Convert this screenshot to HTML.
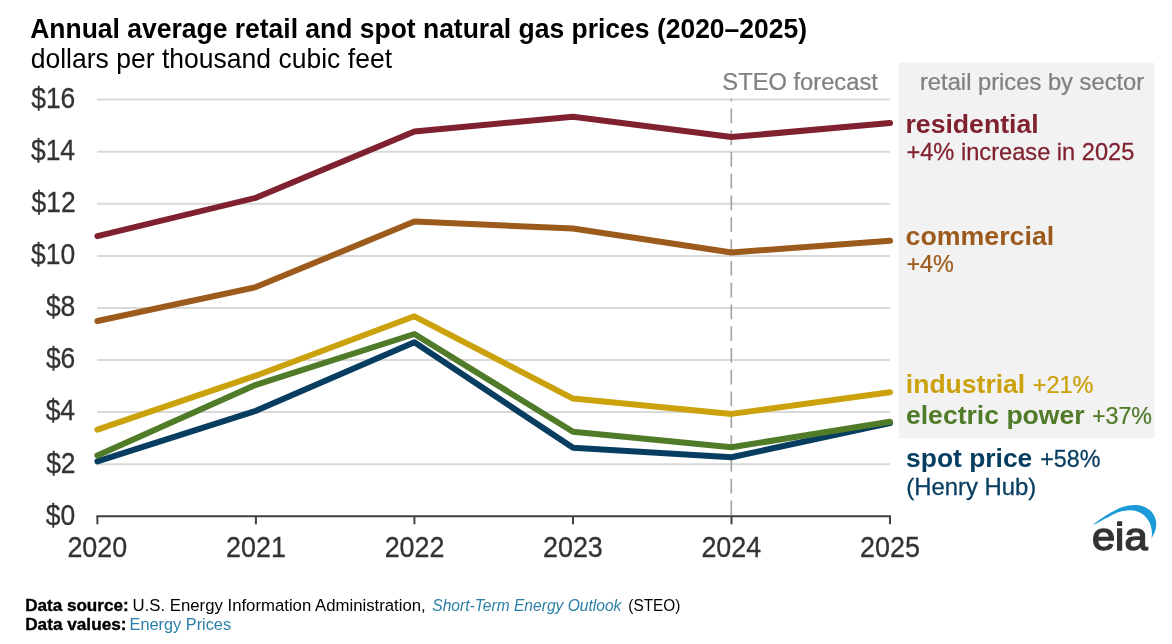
<!DOCTYPE html>
<html lang="en"><head><meta charset="utf-8"><title>Annual average retail and spot natural gas prices (2020–2025)</title>
<style>
html,body{margin:0;padding:0;background:#fff;}
body{width:1172px;height:644px;overflow:hidden;}
svg{display:block;}
text{font-family:"Liberation Sans",sans-serif;}
</style></head><body>
<svg width="1172" height="644" viewBox="0 0 1172 644">
<rect width="1172" height="644" fill="#fff"/>
<rect x="898.7" y="62.6" width="255.5" height="375.6" fill="#f2f2f2"/>
<line x1="97.2" x2="890.0" y1="464.2" y2="464.2" stroke="#d9d9d9" stroke-width="2"/>
<line x1="97.2" x2="890.0" y1="412.1" y2="412.1" stroke="#d9d9d9" stroke-width="2"/>
<line x1="97.2" x2="890.0" y1="360.0" y2="360.0" stroke="#d9d9d9" stroke-width="2"/>
<line x1="97.2" x2="890.0" y1="307.9" y2="307.9" stroke="#d9d9d9" stroke-width="2"/>
<line x1="97.2" x2="890.0" y1="255.9" y2="255.9" stroke="#d9d9d9" stroke-width="2"/>
<line x1="97.2" x2="890.0" y1="203.8" y2="203.8" stroke="#d9d9d9" stroke-width="2"/>
<line x1="97.2" x2="890.0" y1="151.7" y2="151.7" stroke="#d9d9d9" stroke-width="2"/>
<line x1="97.2" x2="890.0" y1="99.6" y2="99.6" stroke="#d9d9d9" stroke-width="2"/>
<path d="M731.3 515.2 V98.8" stroke="#a6a6a6" stroke-width="1.7" stroke-dasharray="14.7 7.08" fill="none"/>
<path d="M96.4 516.3 H891.0" stroke="#404040" stroke-width="2" fill="none"/>
<line x1="97.4" x2="97.4" y1="516.3" y2="524.3" stroke="#404040" stroke-width="2"/>
<line x1="255.9" x2="255.9" y1="516.3" y2="524.3" stroke="#404040" stroke-width="2"/>
<line x1="414.4" x2="414.4" y1="516.3" y2="524.3" stroke="#404040" stroke-width="2"/>
<line x1="573.0" x2="573.0" y1="516.3" y2="524.3" stroke="#404040" stroke-width="2"/>
<line x1="731.5" x2="731.5" y1="516.3" y2="524.3" stroke="#404040" stroke-width="2"/>
<line x1="890.0" x2="890.0" y1="516.3" y2="524.3" stroke="#404040" stroke-width="2"/>
<polyline points="97.4,236.1 255.9,197.8 414.4,131.4 573.0,116.8 731.5,137.1 890.0,123.0" fill="none" stroke="#80212f" stroke-width="6" stroke-linejoin="round" stroke-linecap="round"/>
<polyline points="97.4,321.0 255.9,287.1 414.4,221.5 573.0,228.5 731.5,252.5 890.0,240.8" fill="none" stroke="#9c5b1c" stroke-width="6" stroke-linejoin="round" stroke-linecap="round"/>
<polyline points="97.4,429.6 255.9,375.7 414.4,316.3 573.0,398.6 731.5,413.9 890.0,392.3" fill="none" stroke="#cba10c" stroke-width="6" stroke-linejoin="round" stroke-linecap="round"/>
<polyline points="97.4,461.3 255.9,410.8 414.4,342.3 573.0,447.8 731.5,457.2 890.0,423.1" fill="none" stroke="#063d60" stroke-width="6" stroke-linejoin="round" stroke-linecap="round"/>
<polyline points="97.4,455.6 255.9,384.8 414.4,334.0 573.0,431.7 731.5,447.3 890.0,421.8" fill="none" stroke="#507b28" stroke-width="6" stroke-linejoin="round" stroke-linecap="round"/>
<text transform="translate(45.76 524.60) scale(0.9250 1)" style="font-size:28.6px;fill:#333333;stroke:#333333;stroke-width:0.3px;">$0</text>
<text transform="translate(46.16 472.51) scale(0.9250 1)" style="font-size:28.6px;fill:#333333;stroke:#333333;stroke-width:0.3px;">$2</text>
<text transform="translate(45.63 420.43) scale(0.9250 1)" style="font-size:28.6px;fill:#333333;stroke:#333333;stroke-width:0.3px;">$4</text>
<text transform="translate(45.89 368.34) scale(0.9250 1)" style="font-size:28.6px;fill:#333333;stroke:#333333;stroke-width:0.3px;">$6</text>
<text transform="translate(45.89 316.25) scale(0.9250 1)" style="font-size:28.6px;fill:#333333;stroke:#333333;stroke-width:0.3px;">$8</text>
<text transform="translate(31.08 264.16) scale(0.9250 1)" style="font-size:28.6px;fill:#333333;stroke:#333333;stroke-width:0.3px;">$10</text>
<text transform="translate(31.48 212.07) scale(0.9250 1)" style="font-size:28.6px;fill:#333333;stroke:#333333;stroke-width:0.3px;">$12</text>
<text transform="translate(30.95 159.99) scale(0.9250 1)" style="font-size:28.6px;fill:#333333;stroke:#333333;stroke-width:0.3px;">$14</text>
<text transform="translate(31.21 107.90) scale(0.9250 1)" style="font-size:28.6px;fill:#333333;stroke:#333333;stroke-width:0.3px;">$16</text>
<text transform="translate(67.39 556.90) scale(0.9400 1)" style="font-size:28.6px;fill:#333333;stroke:#333333;stroke-width:0.3px;">2020</text>
<text transform="translate(226.04 556.90) scale(0.9400 1)" style="font-size:28.6px;fill:#333333;stroke:#333333;stroke-width:0.3px;">2021</text>
<text transform="translate(384.63 556.90) scale(0.9400 1)" style="font-size:28.6px;fill:#333333;stroke:#333333;stroke-width:0.3px;">2022</text>
<text transform="translate(543.02 556.90) scale(0.9400 1)" style="font-size:28.6px;fill:#333333;stroke:#333333;stroke-width:0.3px;">2023</text>
<text transform="translate(701.40 556.90) scale(0.9400 1)" style="font-size:28.6px;fill:#333333;stroke:#333333;stroke-width:0.3px;">2024</text>
<text transform="translate(860.06 556.90) scale(0.9400 1)" style="font-size:28.6px;fill:#333333;stroke:#333333;stroke-width:0.3px;">2025</text>
<text transform="translate(30.24 38.00) scale(0.9359 1)" style="font-size:28.3px;fill:#000;font-weight:bold;">Annual average retail and spot natural gas prices (2020–2025)</text>
<text transform="translate(30.64 67.90) scale(0.9685 1)" style="font-size:27.4px;fill:#000;">dollars per thousand cubic feet</text>
<text transform="translate(722.33 89.65) scale(1.0187 1)" style="font-size:23.3px;fill:#808080;stroke:#808080;stroke-width:0.25px;">STEO forecast</text>
<text transform="translate(919.96 90.40) scale(1.0188 1)" style="font-size:23.3px;fill:#808080;stroke:#808080;stroke-width:0.25px;">retail prices by sector</text>
<text transform="translate(905.47 132.60) scale(1.0173 1)" style="font-size:26.2px;fill:#80212f;font-weight:bold;">residential</text>
<text transform="translate(906.42 160.30) scale(1.0103 1)" style="font-size:23.4px;fill:#80212f;stroke:#80212f;stroke-width:0.25px;">+4% increase in 2025</text>
<text transform="translate(905.53 244.60) scale(1.0218 1)" style="font-size:26.2px;fill:#9c5b1c;font-weight:bold;">commercial</text>
<text transform="translate(906.43 272.30) scale(0.9997 1)" style="font-size:23.4px;fill:#9c5b1c;stroke:#9c5b1c;stroke-width:0.25px;">+4%</text>
<text transform="translate(905.84 393.10) scale(1.0126 1)" style="font-size:26.2px;fill:#cba10c;font-weight:bold;">industrial</text>
<text transform="translate(1032.73 393.10) scale(1.0034 1)" style="font-size:23.4px;fill:#cba10c;stroke:#cba10c;stroke-width:0.25px;">+21%</text>
<text transform="translate(905.94 424.20) scale(1.0151 1)" style="font-size:26.2px;fill:#507b28;font-weight:bold;">electric power</text>
<text transform="translate(1091.94 424.20) scale(0.9932 1)" style="font-size:23.4px;fill:#507b28;stroke:#507b28;stroke-width:0.25px;">+37%</text>
<text transform="translate(906.08 467.10) scale(1.0081 1)" style="font-size:26.2px;fill:#063d60;font-weight:bold;">spot price</text>
<text transform="translate(1040.13 467.10) scale(0.9966 1)" style="font-size:23.4px;fill:#063d60;stroke:#063d60;stroke-width:0.25px;">+58%</text>
<text transform="translate(906.27 494.70) scale(1.0200 1)" style="font-size:23.4px;fill:#063d60;stroke:#063d60;stroke-width:0.25px;">(Henry Hub)</text>
<path d="M1093.1 524.6 L1093.8 524.1 L1094.8 523.3 L1096.0 522.5 L1097.3 521.5 L1098.6 520.5 L1100.0 519.5 L1101.3 518.6 L1102.6 517.7 L1103.8 516.9 L1105.0 516.1 L1106.1 515.4 L1107.3 514.7 L1108.5 514.0 L1109.7 513.3 L1110.9 512.6 L1112.1 511.9 L1113.3 511.2 L1114.6 510.6 L1115.9 509.9 L1117.2 509.3 L1118.5 508.6 L1119.8 508.1 L1121.1 507.6 L1122.3 507.1 L1123.5 506.7 L1124.8 506.4 L1126.0 506.1 L1127.2 505.8 L1128.4 505.6 L1129.6 505.5 L1130.7 505.3 L1131.8 505.2 L1132.8 505.1 L1133.8 505.0 L1134.7 505.0 L1135.6 505.0 L1136.5 505.0 L1137.3 505.1 L1138.2 505.2 L1139.1 505.3 L1140.0 505.5 L1141.0 505.7 L1141.9 506.0 L1142.8 506.3 L1143.8 506.7 L1144.7 507.0 L1145.6 507.5 L1146.4 507.9 L1147.2 508.4 L1148.0 508.9 L1148.8 509.4 L1149.6 510.0 L1150.3 510.6 L1151.0 511.2 L1151.6 511.9 L1152.2 512.6 L1152.7 513.3 L1153.3 514.2 L1153.7 515.0 L1154.2 515.9 L1154.6 516.8 L1154.9 517.6 L1155.2 518.4 L1155.5 519.2 L1155.7 519.9 L1155.9 520.5 L1156.0 521.2 L1156.1 521.8 L1156.2 522.4 L1156.2 523.0 L1156.2 523.6 L1156.2 524.3 L1156.2 525.0 L1156.1 525.8 L1156.1 526.6 L1156.0 527.4 L1155.8 528.2 L1155.7 529.1 L1155.5 529.9 L1155.2 530.8 L1154.8 531.8 L1154.4 532.8 L1153.8 533.9 L1153.3 535.1 L1152.7 536.1 L1152.2 537.1 L1151.8 537.9 L1151.5 538.5 L1151.5 538.1 L1151.6 537.5 L1151.7 536.9 L1151.8 536.1 L1151.8 535.3 L1151.9 534.5 L1151.9 533.7 L1151.9 533.0 L1151.9 532.3 L1151.8 531.6 L1151.7 530.8 L1151.7 530.1 L1151.6 529.4 L1151.4 528.7 L1151.3 527.9 L1151.1 527.2 L1150.9 526.5 L1150.7 525.7 L1150.5 525.0 L1150.2 524.3 L1149.9 523.5 L1149.6 522.8 L1149.3 522.1 L1148.9 521.4 L1148.5 520.7 L1148.1 520.0 L1147.6 519.4 L1147.1 518.7 L1146.6 518.0 L1146.1 517.4 L1145.5 516.8 L1144.9 516.2 L1144.3 515.6 L1143.6 515.1 L1142.9 514.5 L1142.2 514.0 L1141.5 513.5 L1140.7 513.0 L1139.9 512.6 L1139.1 512.2 L1138.3 511.9 L1137.4 511.5 L1136.5 511.3 L1135.5 511.0 L1134.6 510.8 L1133.7 510.6 L1132.7 510.5 L1131.8 510.4 L1130.9 510.3 L1130.0 510.3 L1129.1 510.3 L1128.2 510.4 L1127.2 510.5 L1126.3 510.5 L1125.4 510.7 L1124.5 510.8 L1123.6 510.9 L1122.7 511.1 L1121.8 511.3 L1120.8 511.5 L1119.9 511.7 L1119.0 512.0 L1118.1 512.3 L1117.2 512.6 L1116.3 513.0 L1115.4 513.4 L1114.5 513.8 L1113.6 514.3 L1112.6 514.8 L1111.7 515.3 L1110.8 515.8 L1109.9 516.3 L1109.0 516.8 L1108.1 517.2 L1107.2 517.7 L1106.2 518.1 L1105.3 518.6 L1104.4 519.0 L1103.5 519.5 L1102.6 520.0 L1101.7 520.5 L1100.7 521.1 L1099.6 521.7 L1098.6 522.2 L1097.7 522.8 L1096.8 523.3 L1096.0 523.8 L1095.3 524.1 L1094.8 524.3 L1094.3 524.5 L1094.0 524.6 L1093.7 524.6 L1093.5 524.6 L1093.4 524.6 L1093.2 524.6 L1093.1 524.6 Z" fill="#1b9ad7"/>
<text transform="translate(1091.93 550.20) scale(1.0557 1)" style="font-size:39.5px;fill:#333;stroke:#333;stroke-width:1.4px;">eia</text>
<text transform="translate(25.19 610.90) scale(1.0480 1)" style="font-size:16.3px;fill:#000;font-weight:bold;stroke:#000;stroke-width:0.35px;">Data source:</text>
<text transform="translate(132.54 610.90) scale(1.0286 1)" style="font-size:16.3px;fill:#000;">U.S. Energy Information Administration,</text>
<text transform="translate(432.23 610.90) scale(0.9578 1)" style="font-size:16.3px;fill:#2a7ea8;font-style:italic;">Short-Term Energy Outlook</text>
<text transform="translate(628.28 610.90) scale(0.9433 1)" style="font-size:16.3px;fill:#000;">(STEO)</text>
<text transform="translate(25.18 629.70) scale(1.0557 1)" style="font-size:16.3px;fill:#000;font-weight:bold;stroke:#000;stroke-width:0.35px;">Data values:</text>
<text transform="translate(129.59 629.70) scale(1.0011 1)" style="font-size:16.3px;fill:#2a7ea8;">Energy Prices</text>
</svg>
</body></html>
